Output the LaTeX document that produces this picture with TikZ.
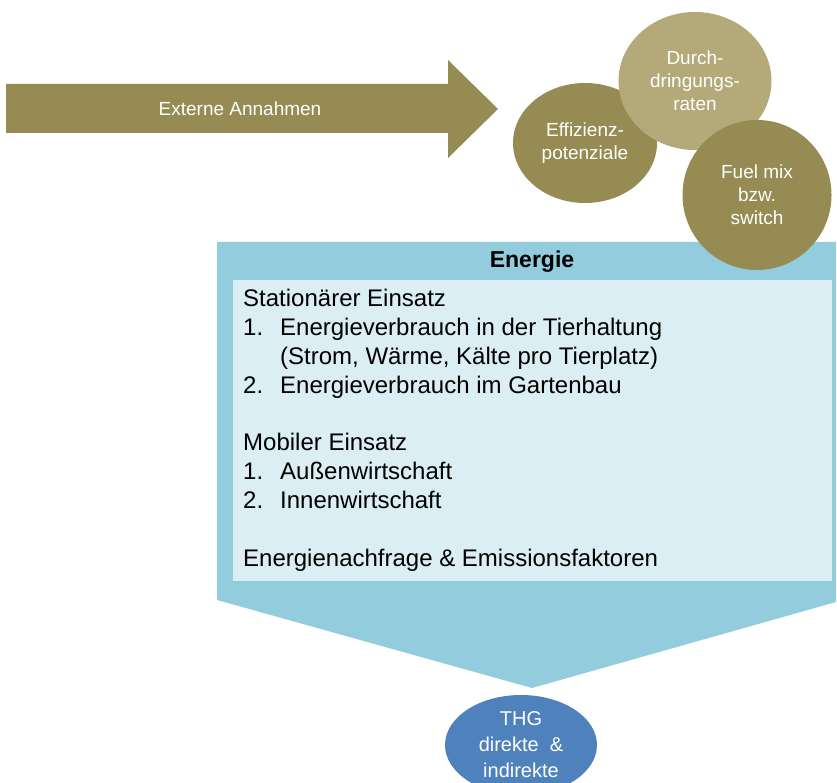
\documentclass[tikz,border=0pt]{standalone}
\usepackage{fontspec}
\setmainfont{Liberation Sans}
\usepackage{array}
\usepackage{tikz}
\usetikzlibrary{positioning, shapes.geometric, calc}

\definecolor{olivdunkel}{HTML}{968B53}
\definecolor{olivhell}{HTML}{B4A978}
\definecolor{energieblau}{HTML}{93CDDD}
\definecolor{energiehell}{HTML}{DAEEF3}
\definecolor{thgblau}{HTML}{4F81BD}

\tikzset{
	blase/.style={ellipse, inner sep=0pt, text=white, align=center, font=\fontsize{19}{23}\selectfont},
	blase dunkel/.style={blase, fill=olivdunkel},
	blase hell/.style={blase, fill=olivhell},
}

\begin{document}
\begin{tikzpicture}[x=1pt, y=-1pt]
	\useasboundingbox (0,0) rectangle (837,783);

	% Pfeil
	\fill[olivdunkel] (6,84) -- (448,84) -- (448,60) -- (498,109) -- (448,158) -- (448,133) -- (6,133) -- cycle;
	\node[text=white, font=\fontsize{19}{23}\selectfont] (annahmen) at (240,109) {Externe Annahmen};

	% Energie
	\fill[energieblau] (217,242) -- (836,242) -- (836,602) -- (532,688) -- (217,600) -- cycle;
	\node[fill=energiehell, minimum width=599, minimum height=301, inner sep=0pt, anchor=north west] (kasten) at (233,280) {};
	\node[font=\fontsize{23}{28}\bfseries\selectfont] (energie) at (532,262) {Energie};
	\node[anchor=north west, inner sep=0pt, font=\fontsize{24}{28.9}\selectfont] (liste) at ([shift={(10,6)}]kasten.north west)
	{
		\begin{tabular}{@{}p{37pt}@{}l@{}}
		\multicolumn{2}{@{}l@{}}{Stationärer Einsatz} \\
		1. & Energieverbrauch in der Tierhaltung \\
		   & (Strom, Wärme, Kälte pro Tierplatz) \\
		2. & Energieverbrauch im Gartenbau \\
		   & \\
		\multicolumn{2}{@{}l@{}}{Mobiler Einsatz} \\
		1. & Außenwirtschaft \\
		2. & Innenwirtschaft \\
		   & \\
		\multicolumn{2}{@{}l@{}}{Energienachfrage \& Emissionsfaktoren} \\
		\end{tabular}
	};

	% Einflussfaktoren
	\node[blase dunkel, minimum width=144, minimum height=120] (effizienz) at (585,143) {Effizienz-\\potenziale};
	\node[blase hell, minimum width=153, minimum height=138] (durchdringung) at (695,81) {Durch-\\dringungs-\\raten};
	\node[blase dunkel, minimum width=149, minimum height=150] (fuelmix) at (757,195) {Fuel mix\\bzw.\\switch};

	% Ergebnis
	\node[ellipse, fill=thgblau, text=white, minimum width=152, minimum height=100, inner sep=0pt, align=center, font=\fontsize{20}{26}\selectfont] (thg) at (521,745) {THG\\direkte \ \&\\indirekte};
\end{tikzpicture}
\end{document}
